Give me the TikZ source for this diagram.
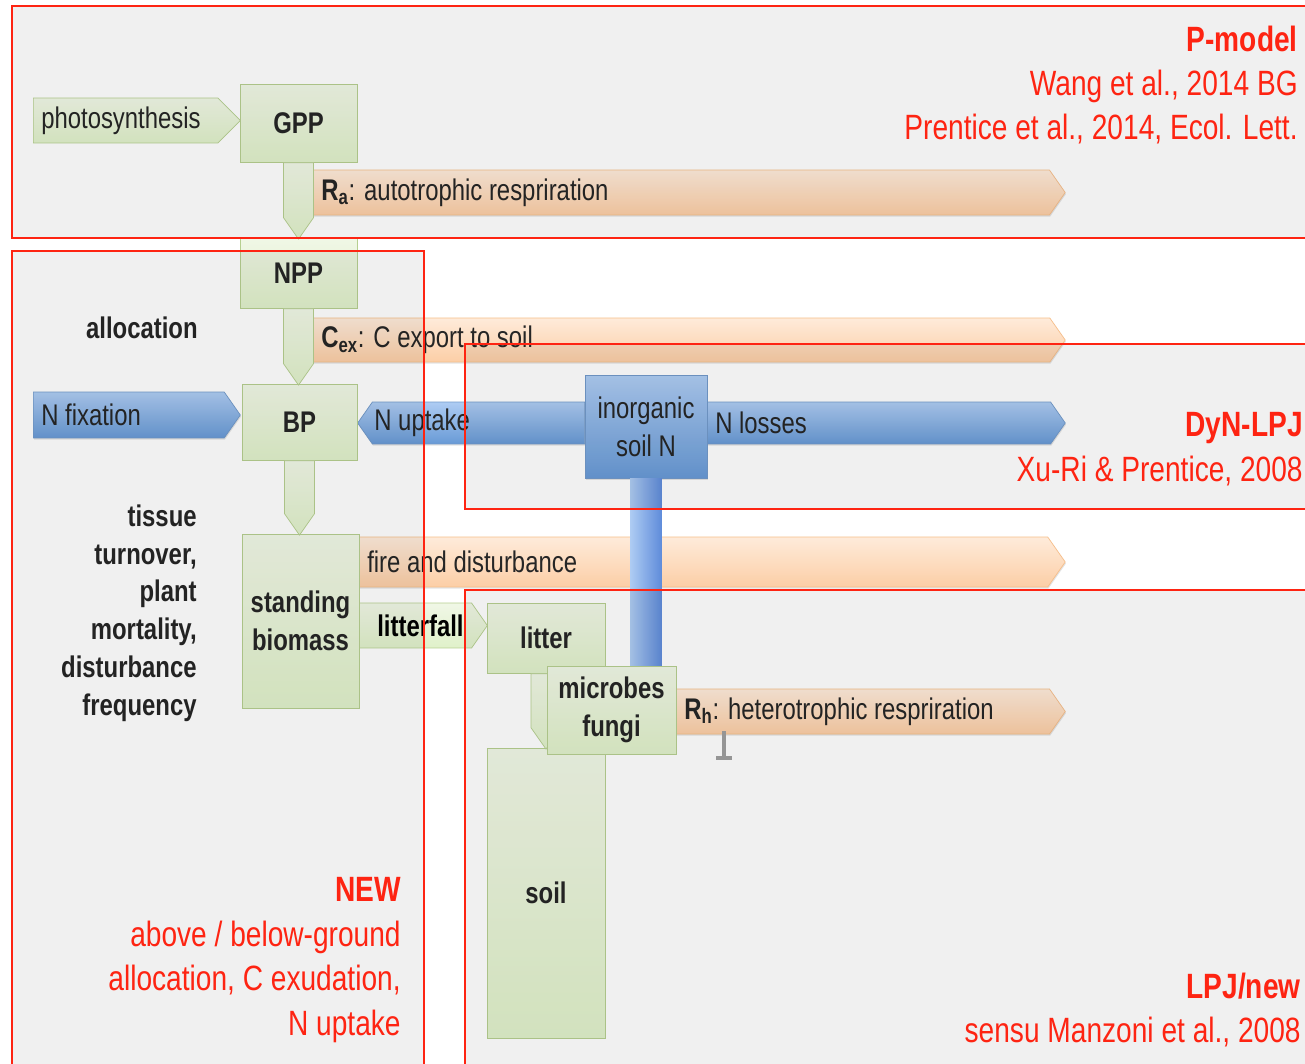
\documentclass[tikz,border=0pt]{standalone}
\usepackage{fontspec}
\setmainfont{Liberation Sans}[FakeStretch=0.8]
\usetikzlibrary{shapes.symbols,shadows}

\definecolor{poolhi}{RGB}{240,247,230}
\definecolor{poollo}{RGB}{224,241,202}
\definecolor{poolline}{RGB}{182,207,144}
\definecolor{peachhi}{RGB}{254,235,218}
\definecolor{peachlo}{RGB}{252,206,166}
\definecolor{peachline}{RGB}{246,190,138}
\definecolor{bluehi}{RGB}{174,204,243}
\definecolor{bluelo}{RGB}{104,154,214}
\definecolor{blueline}{RGB}{114,154,202}
\definecolor{modelred}{RGB}{254,36,18}
\definecolor{ink}{RGB}{38,38,38}

\tikzset{
  pool/.style={rectangle, draw=poolline, top color=poolhi, bottom color=poollo,
    text=ink, align=center, inner sep=0pt,
    font=\fontsize{17}{21.5}\selectfont\bfseries},
  flow/.style={signal, inner sep=0pt, signal pointer angle=110},
  shadowed/.style={drop shadow={opacity=0.22, shadow xshift=0.4pt, shadow yshift=-0.9pt}},
  cflow/.style={flow, shadowed, draw=peachline, top color=peachhi, bottom color=peachlo},
  nflow/.style={flow, shadowed, draw=blueline, top color=bluehi, bottom color=bluelo},
  gflow/.style={flow, draw=poolline, top color=poolhi, bottom color=poollo},
  down/.style={gflow, signal to=south, signal pointer angle=70, minimum width=0.6cm},
  flowtext/.style={text=ink, inner sep=0pt, font=\fontsize{17}{21.5}\selectfont},
  note/.style={text=ink, inner sep=0pt, align=right, font=\fontsize{17}{21.5}\selectfont\bfseries},
  tag/.style={text=modelred, inner sep=0pt, align=right, font=\fontsize{20}{25.3}\selectfont},
  zone/.style={fill=black, fill opacity=0.06, draw=modelred, line width=1.4pt}
}

\begin{document}
\begin{tikzpicture}[x=0.02cm, y=-0.02cm]
  % canvas
  \fill[white] (0,0) rectangle (1305,1064);
  \useasboundingbox (0,0) rectangle (1305,1064);

  % fluxes leaving the system
  \node[cflow, anchor=west, minimum width=15.04cm, minimum height=0.90cm] (ra) at (313,192.5) {};
  \node[cflow, anchor=west, minimum width=15.04cm, minimum height=0.88cm] (cex) at (313,340) {};
  \node[cflow, anchor=west, minimum width=14.12cm, minimum height=1.00cm] (fire) at (359,562) {};
  \node[cflow, anchor=west, minimum width=7.78cm, minimum height=0.90cm] (rh) at (676,711.5) {};

  % nitrogen fluxes
  \node[nflow, anchor=west, minimum width=4.14cm, minimum height=0.92cm] (nfix) at (33,415) {};
  \node[nflow, signal to=west, anchor=east, minimum width=4.54cm, minimum height=0.84cm] (nupt) at (585,423) {};
  \node[nflow, anchor=west, minimum width=7.16cm, minimum height=0.84cm] (nloss) at (707,423) {};

  % carbon inputs and transfers
  \node[gflow, signal pointer angle=90, anchor=west, minimum width=4.14cm, minimum height=0.90cm] (photo) at (33,120.5) {};
  \node[gflow, anchor=west, minimum width=2.56cm, minimum height=0.90cm,
        font=\fontsize{17}{21.5}\selectfont\bfseries] (fall) at (359,625.5) {\hspace{0.2cm}litterfall};

  % pools
  \node[pool, minimum width=2.34cm, minimum height=1.56cm] (gpp) at (298.5,123) {GPP};
  \node[pool, minimum width=2.34cm, minimum height=1.40cm] (npp) at (298.5,273) {NPP};
  \node[pool, minimum width=2.30cm, minimum height=1.52cm] (bp) at (299.5,422) {BP};
  \node[pool, minimum width=2.34cm, minimum height=3.48cm] (biomass) at (300.5,621) {standing\\biomass};
  \node[pool, minimum width=2.36cm, minimum height=1.40cm] (litter) at (546,638) {litter};
  \node[pool, minimum width=2.36cm, minimum height=5.80cm] (soil) at (546,893) {soil};
  \node[rectangle, shadowed, draw=blueline, top color=bluehi, bottom color=bluelo, text=ink,
        align=center, inner sep=0pt, minimum width=2.44cm, minimum height=2.06cm,
        font=\fontsize{17}{21.5}\selectfont] (nsoil) at (646,426.5) {inorganic\\soil N};

  % downward transfers
  \node[down, anchor=north, minimum height=1.10cm] (gpp2npp) at (gpp.south) {};
  \node[down, anchor=north, minimum height=1.10cm] (npp2bp) at (npp.south) {};
  \node[down, anchor=north, minimum height=1.06cm] (bp2bio) at (bp.south) {};
  \node[down, anchor=north, minimum height=1.08cm] (lit2soil) at (litter.south) {};

  \node[pool, minimum width=2.58cm, minimum height=1.76cm] (micro) at (611.5,710) {microbes\\fungi};

  % mineral N link down to the microbes
  \coordinate (barL) at ([xshift=-9.07pt]nsoil.south);
  \coordinate (barR) at ([xshift=9.07pt]nsoil.south);
  \shade[left color=bluehi, right color=bluelo!90!blue] (barL) rectangle (barR |- micro.north);

  % flux labels
  \node[flowtext, anchor=west] (photo-lbl) at ([xshift=4.5pt]photo.west) {photosynthesis};
  \node[flowtext, anchor=west] (ra-lbl) at ([xshift=4.5pt]ra.west) {\textbf{R\textsubscript{a}}: autotrophic respriration};
  \node[flowtext, anchor=west] (cex-lbl) at ([xshift=4.5pt]cex.west) {\textbf{C\textsubscript{ex}}: C export to soil};
  \node[flowtext, anchor=west] (nfix-lbl) at ([xshift=4.5pt]nfix.west) {N fixation};
  \node[flowtext, anchor=west] (nupt-lbl) at (374,423) {N uptake};
  \node[flowtext, anchor=west] (nloss-lbl) at ([xshift=4.5pt]nloss.west) {N losses};
  \node[flowtext, anchor=west] (fire-lbl) at ([xshift=4.5pt]fire.west) {fire and disturbance};
  \node[flowtext, anchor=west] (rh-lbl) at ([xshift=4.5pt]rh.west) {\textbf{R\textsubscript{h}}: heterotrophic respriration};

  % process notes
  \node[note, anchor=east] (alloc) at (198,328) {allocation};
  \node[note, anchor=east] (turnover) at (197,613) {tissue\\turnover,\\plant\\mortality,\\disturbance\\frequency};

  % text cursor
  \draw[gray!75, line width=1.8pt] (724,731) -- (724,757);
  \draw[gray!75, line width=1.8pt] (716,758) -- (732,758);

  % model domains
  \filldraw[zone] (12,6) rectangle (1320,238);
  \filldraw[zone] (12,251) rectangle (424,1080);
  \filldraw[zone] (465,344) rectangle (1320,509);
  \filldraw[zone] (465,590) rectangle (1320,1080);

  \node[tag, anchor=east] (pmodel) at (1298,85) {\textbf{P-model}\\Wang et al., 2014 BG\\Prentice et al., 2014, Ecol. Lett.};
  \node[tag, anchor=east] (dynlpj) at (1303,449) {\textbf{DyN-LPJ}\\Xu-Ri \& Prentice, 2008};
  \node[tag, anchor=east] (new) at (401,960) {\textbf{NEW}\\above / below-ground\\allocation, C exudation,\\N uptake};
  \node[tag, anchor=east] (lpjnew) at (1301,1010) {\textbf{LPJ/new}\\sensu Manzoni et al., 2008};
\end{tikzpicture}
\end{document}
